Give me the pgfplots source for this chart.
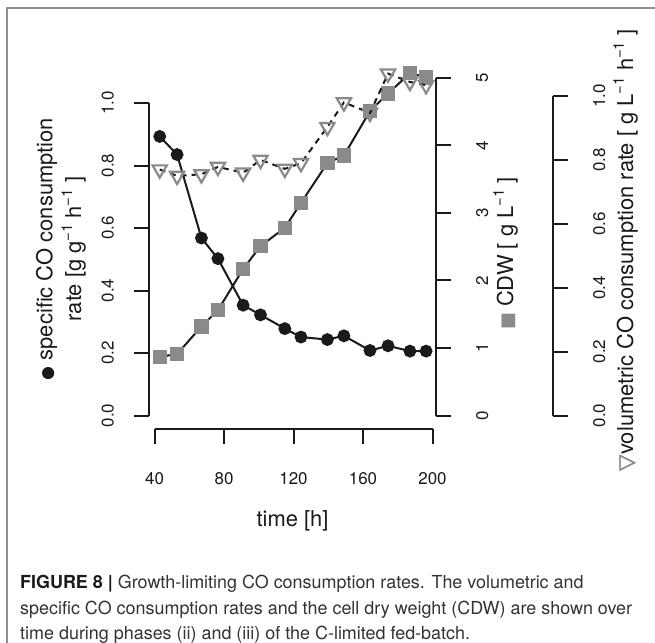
\documentclass[border=0pt]{standalone}
\usepackage{pgfplots}
\pgfplotsset{compat=1.18}
\usepackage{fontspec}
\setmainfont{TeX Gyre Heros}
\newfontfamily\symfont{DejaVu Sans}
\newfontfamily\symfontb[FakeBold=2.5]{DejaVu Sans}
\definecolor{txt}{HTML}{1A1A1A}
\definecolor{mgray}{HTML}{8A8A8A}
\definecolor{framec}{HTML}{8F8F8F}
\definecolor{captxt}{HTML}{333333}
\newcommand\sps[1]{\raisebox{0.42em}{\fontsize{15}{15}\selectfont #1}}
\newcommand\lab{\fontsize{22}{29}\selectfont}
\newcommand\tickf{\fontsize{17}{17}\selectfont}
\pgfplotsset{
  base/.style={
    at={(149bp,-429bp)}, anchor=south west,
    scale only axis, width=287bp, height=371bp,
    xmin=36.83, xmax=202.0,
    clip=false,
    tick align=outside, major tick length=15bp,
    major tick style={line width=2bp, txt},
    axis line style={draw=none},
    /pgf/number format/assume math mode=true,
    tick label style={font=\tickf, text=txt, inner sep=0pt},
  },
}
\begin{document}
\begin{tikzpicture}
\useasboundingbox (0bp,0bp) rectangle (655bp,-643bp);
\fill[white] (0bp,0bp) rectangle (655bp,-643bp);
\draw[framec, line width=1.5bp] (7bp,-645bp) -- (7bp,-8bp) -- (657bp,-8bp);

% specific CO consumption rate
\begin{axis}[base,
  ymin=-0.0432, ymax=1.144,
  axis x line*=bottom, axis y line*=left,
  xtick={40,80,120,160,200},
  ytick={0,0.2,0.4,0.6,0.8,1.0},
  yticklabel style={/pgf/number format/fixed, /pgf/number format/fixed zerofill, /pgf/number format/precision=1,
    xshift=-20bp, rotate=90, anchor=south},
  xticklabel style={anchor=north, yshift=-28bp},
  every axis x label/.style={at={(rel axis cs:0.5,0)}, anchor=base, yshift=-97bp, font=\lab, text=txt},
  every axis y label/.style={at={(rel axis cs:0,0.485)}, xshift=-88bp, rotate=90, anchor=center, align=center, font=\lab, text=txt},
  xlabel={time [h]},
  ylabel={{\symfont\fontsize{16}{16}\selectfont ●} specific CO consumption\\rate [g g\sps{−1} h\sps{−1} ]},
]
\addplot[txt, line width=2bp, mark=*, mark size=5.4bp, mark options={fill=txt, draw=txt}]
coordinates {
(43,0.893) (53,0.835) (67,0.568) (76.5,0.502) (91,0.353) (101,0.322) (115,0.278)
(124.3,0.251) (139.5,0.243) (149,0.255) (164,0.208) (174.4,0.223) (187,0.206) (196.3,0.206)
};
\draw[txt, line width=2bp] (axis cs:36.83,0) -- (axis cs:36.83,1.0);
\draw[txt, line width=2bp] (axis cs:40,-0.0432) -- (axis cs:200,-0.0432);
\end{axis}

% CDW
\begin{axis}[base,
  ymin=-0.2, ymax=5.296,
  axis x line=none, axis y line*=right,
  ytick={0,1,2,3,4,5},
  yticklabel style={xshift=25bp, rotate=90, anchor=north},
  every axis y label/.style={at={(rel axis cs:1,0.473)}, xshift=77bp, rotate=90, anchor=base, font=\lab, text=txt},
  ylabel={{\symfont\fontsize{18}{18}\selectfont\color{mgray}■} CDW [ g L\sps{−1} ]},
]
\addplot[txt, line width=2bp, mark=square*, mark size=6.2bp, mark options={fill=mgray, draw=mgray}]
coordinates {
(43,0.87) (53,0.91) (67,1.32) (76.5,1.56) (91,2.17) (101,2.51) (115,2.78)
(124.3,3.15) (139.5,3.74) (149,3.85) (164,4.51) (174.4,4.77) (187,5.07) (196.3,5.01)
};
\draw[txt, line width=2bp] (axis cs:202.0,0) -- (axis cs:202.0,5);
\end{axis}

% volumetric data
\begin{axis}[base,
  ymin=-0.04225, ymax=1.119,
  hide axis,
]
\addplot[txt, line width=2bp, dash pattern=on 6bp off 5bp, mark=triangle, mark size=8.2bp,
  mark options={solid, rotate=180, draw=mgray, fill=none, line width=2.2bp}]
coordinates {
(43,0.77) (53,0.75) (67,0.755) (76.5,0.778) (91,0.76) (101,0.80) (115,0.772)
(124.3,0.79) (139.5,0.903) (149,0.98) (164,0.947) (174.4,1.07) (187,1.044) (196.3,1.034)
};
\end{axis}

% volumetric axis
\begin{axis}[
  at={(552bp,-429bp)}, anchor=south west,
  scale only axis, width=1bp, height=371bp,
  xmin=0, xmax=1,
  ymin=-0.04225, ymax=1.119,
  clip=false,
  tick align=outside, major tick length=15bp,
  major tick style={line width=2bp, txt},
  axis line style={draw=none},
  /pgf/number format/assume math mode=true,
  tick label style={font=\tickf, text=txt, inner sep=0pt},
  axis x line=none, axis y line*=right,
  ytick={0,0.2,0.4,0.6,0.8,1.0},
  yticklabel style={/pgf/number format/fixed, /pgf/number format/fixed zerofill, /pgf/number format/precision=1,
    xshift=25bp, rotate=90, anchor=north},
  every axis y label/.style={at={(rel axis cs:1,0.482)}, xshift=80bp, rotate=90, anchor=base, font=\lab, text=txt},
  ylabel={{\symfontb\fontsize{21}{21}\selectfont\color{mgray}▽}volumetric CO consumption rate [ g L\sps{−1} h\sps{−1} ]},
]
\draw[txt, line width=2bp] (axis cs:1,0) -- (axis cs:1,1.0);
\end{axis}

% caption
\begin{scope}[every node/.style={anchor=base west, inner sep=0pt, text=captxt, font=\fontsize{18}{18}\selectfont}]
\node at (20bp,-588bp) {{\color{txt}\bfseries FIGURE 8 |} Growth-limiting CO consumption rates. The volumetric and};
\node at (20bp,-614bp) {specific CO consumption rates and the cell dry weight (CDW) are shown over};
\node at (20bp,-639bp) {time during phases (ii) and (iii) of the C-limited fed-batch.};
\end{scope}
\end{tikzpicture}
\end{document}
